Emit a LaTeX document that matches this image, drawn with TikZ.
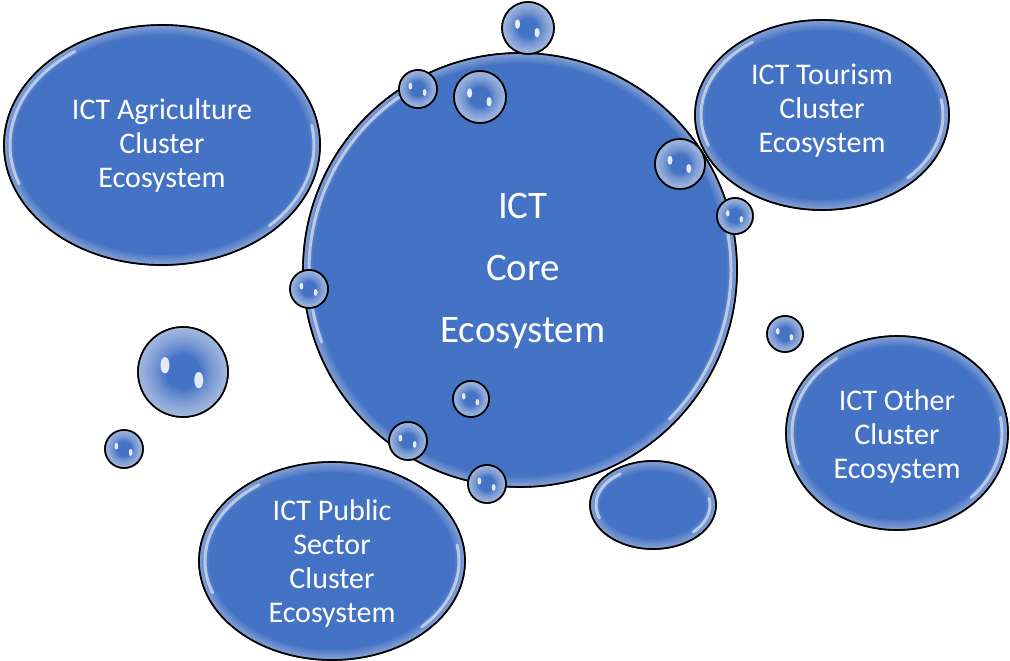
\documentclass[tikz,border=0pt]{standalone}
\usepackage{fontspec}
\setmainfont{Carlito}
\usetikzlibrary{shapes.geometric}
\definecolor{bb}{RGB}{68,114,196}
\tikzset{
  bigshape/.style={ellipse, draw=black, line width=1.6pt, fill=bb, inner sep=0pt},
  bubble/.style={circle, draw=black, line width=1.6pt, fill=bb, inner sep=0pt},
  lbl/.style={text=white, align=center, font=\fontsize{30}{34}\selectfont},
  corelbl/.style={text=white, align=center, font=\fontsize{39}{62}\selectfont},
  spec/.style={white, opacity=.85},
  edge/.style={draw=black, line width=1.6pt}
}
% name, x, y, rx, ry
\newcommand\glowell[5]{%
  \node[bigshape, minimum width={2*#4 pt}, minimum height={2*#5 pt}] (#1) at (#2,#3) {};
  \begin{scope}
    \clip (#2,#3) ellipse [x radius=#4, y radius=#5];
    \foreach \i in {1,...,8}
      \draw[white, opacity=.05, line width=2.5*\i] (#2,#3) ellipse [x radius=#4, y radius=#5];
    \draw[white, opacity=.55, line width=3, line cap=round]
      ({#2+(#4-6)*cos(160)},{#3+(#5-6)*sin(160)}) arc [start angle=160, end angle=235, x radius=#4-6, y radius=#5-6];
    \draw[white, opacity=.55, line width=3, line cap=round]
      ({#2+(#4-6)*cos(-10)},{#3+(#5-6)*sin(-10)}) arc [start angle=-10, end angle=45, x radius=#4-6, y radius=#5-6];
  \end{scope}
  \draw[edge] (#2,#3) ellipse [x radius=#4, y radius=#5];
}
\newcommand\glowbub[4]{%
  \node[bubble, minimum size={2*#4 pt}] (#1) at (#2,#3) {};
  \begin{scope}
    \clip (#2,#3) circle [radius=#4];
    \foreach \i in {1,...,12}
      \draw[white, opacity=.06, line width=0.1*\i*#4] (#2,#3) circle [radius=#4];
  \end{scope}
  \draw[edge] (#2,#3) circle [radius=#4];
  \fill[spec] (#2-0.4*#4,#3-0.15*#4) ellipse [x radius=0.1*#4, y radius=0.18*#4];
  \fill[spec] (#2+0.35*#4,#3+0.18*#4) ellipse [x radius=0.1*#4, y radius=0.18*#4];
}
\begin{document}
\begin{tikzpicture}[x=1pt,y=-1pt]
\useasboundingbox (0,0) rectangle (1010,661);
% cluster ellipses
\glowell{agri}{162}{145}{158}{120}
\node[lbl] (agrit) at (162,146) {ICT Agriculture\\Cluster\\Ecosystem};
\glowell{tour}{822}{115}{127}{95}
\node[lbl] (tourt) at (822,111) {ICT Tourism\\Cluster\\Ecosystem};
\glowell{other}{897}{433}{111}{97}
\node[lbl] (othert) at (897,436) {ICT Other\\Cluster\\Ecosystem};
\glowell{pub}{332}{561}{133}{99}
\node[lbl] (pubt) at (332,563) {ICT Public\\Sector\\Cluster\\Ecosystem};
% core
\glowell{core}{520}{270}{217}{217}
\node[corelbl] (coret) at (523,271) {ICT\\Core\\Ecosystem};
% small ellipse
\glowell{drop}{653}{505}{63}{44}
% bubbles
\foreach \n/\x/\y/\r in {b1/528/28/26, b2/418/89/19, b3/480/97/26, b4/680/164/25, b5/735/216/18,
  b6/309/289/19, b7/785/334/18, b8/471/399/18, b9/408/441/19, b10/487/484/19, b11/183/372/45, b12/124/449/19}{
  \glowbub{\n}{\x}{\y}{\r}
}
\end{tikzpicture}
\end{document}
